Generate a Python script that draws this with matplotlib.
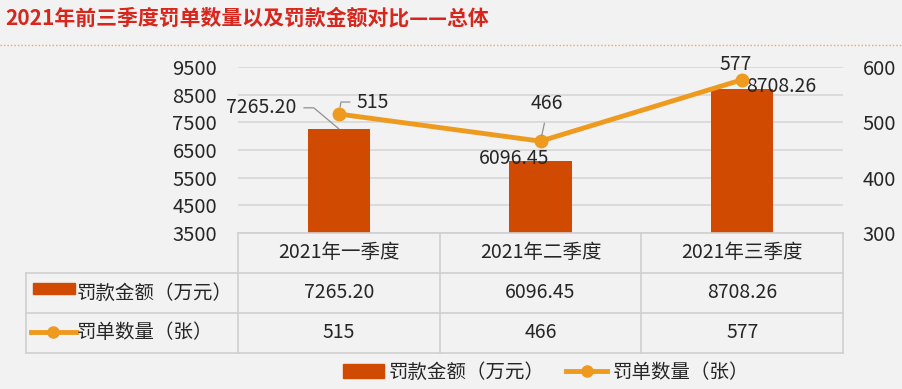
import matplotlib.pyplot as plt
from matplotlib.lines import Line2D
from matplotlib.patches import Patch, Rectangle

plt.rcParams['font.family'] = ['Noto Sans CJK SC', 'DejaVu Sans']

# data
quarters = ['2021年一季度', '2021年二季度', '2021年三季度']
fine_amount = [7265.20, 6096.45, 8708.26]   # 万元
ticket_count = [515, 466, 577]               # 张
amount_label = '罚款金额（万元）'
count_label = '罚单数量（张）'
title = '2021年前三季度罚单数量以及罚款金额对比——总体'

BAR = '#D04A02'
LINE = '#EE9A1F'
BG = '#F2F2F2'
TXT = '#262626'
GRID = '#D9D9D9'

W, H = 903, 389


def fx(px):
    return px / W


def fy(py):
    return 1 - py / H


def fig_line(xs, ys, **kw):
    fig.add_artist(Line2D([fx(v) for v in xs], [fy(v) for v in ys],
                          transform=fig.transFigure, **kw))


fig = plt.figure(figsize=(W / 100, H / 100), dpi=100, facecolor=BG)

# title + dotted rule
fig.text(fx(5), fy(18), title, fontsize=15, fontweight='bold', color='#D8261C', va='center')
fig_line([0, W], [45, 45], color='#EBA76A', lw=1, linestyle=(0, (1, 1.5)))

# plot area
left, right, top, bottom = 238, 843, 67, 233
ax = fig.add_axes([fx(left), fy(bottom), (right - left) / W, (bottom - top) / H])
ax.set_facecolor('none')
x = list(range(len(quarters)))
ax.bar(x, fine_amount, width=0.31, color=BAR, zorder=2)
ax.set_xlim(-0.5, len(quarters) - 0.5)
ax.set_ylim(3500, 9500)
ax.set_yticks(range(3500, 9501, 1000))
ax.set_xticks([])
ax.grid(axis='y', color=GRID, lw=1.3, zorder=0)
for s in ax.spines.values():
    s.set_visible(False)
ax.tick_params(axis='y', length=0, pad=15, labelsize=14.5, labelcolor=TXT)

ax2 = ax.twinx()
ax2.plot(x, ticket_count, color=LINE, lw=3.5, marker='o', ms=9, zorder=3)
ax2.set_ylim(300, 600)
ax2.set_yticks([300, 400, 500, 600])
for s in ax2.spines.values():
    s.set_visible(False)
ax2.tick_params(axis='y', length=0, pad=14, labelsize=14.5, labelcolor=TXT)

leader = dict(arrowstyle='-', color='#909090', lw=0.9)

# bar labels
ax.annotate(f'{fine_amount[0]:.2f}', (x[0], fine_amount[0]), xytext=(-42, 21),
            textcoords='offset pixels', ha='right', va='center', fontsize=14, color=TXT,
            arrowprops=dict(leader, relpos=(1, 0.5), shrinkA=3, shrinkB=0,
                            connectionstyle='angle,angleA=0,angleB=140,rad=0'))
ax.annotate(f'{fine_amount[1]:.2f}', (x[1], fine_amount[1]), xytext=(-26, 3),
            textcoords='offset pixels', ha='center', va='center', fontsize=14, color=TXT, zorder=4)
ax.annotate(f'{fine_amount[2]:.2f}', (x[2], fine_amount[2]), xytext=(39, 2),
            textcoords='offset pixels', ha='center', va='center', fontsize=14, color=TXT, zorder=4)

# line labels
ax2.annotate(str(ticket_count[0]), (x[0], ticket_count[0]), xytext=(18, 12),
             textcoords='offset pixels', ha='left', va='center', fontsize=14, color=TXT,
             arrowprops=dict(leader, relpos=(0, 0.5), shrinkA=3, shrinkB=5,
                             connectionstyle='angle,angleA=180,angleB=80,rad=0'))
ax2.annotate(str(ticket_count[1]), (x[1], ticket_count[1]), xytext=(6, 38),
             textcoords='offset pixels', ha='center', va='center', fontsize=14, color=TXT,
             arrowprops=dict(leader, relpos=(0.5, 0), shrinkA=5, shrinkB=4))
ax2.annotate(str(ticket_count[2]), (x[2], ticket_count[2]), xytext=(-7, 15),
             textcoords='offset pixels', ha='center', va='center', fontsize=14, color=TXT)

# data table under the chart
tcol = '#D0D0D0'
rows = [233, 273, 313, 353]
col_w = (right - left) / len(quarters)
cols = [left + i * col_w for i in range(len(quarters) + 1)]
fig_line([left, right], [rows[0], rows[0]], color=tcol, lw=1.2)
for yy in rows[1:]:
    fig_line([26, right], [yy, yy], color=tcol, lw=1.2)
fig_line([26, 26], [rows[1], rows[3]], color=tcol, lw=1.2)
for xx in cols:
    fig_line([xx, xx], [rows[0], rows[3]], color=tcol, lw=1.2)

tsize = 14
for i, q in enumerate(quarters):
    cx = fx(left + (i + 0.5) * col_w)
    fig.text(cx, fy(253), q, ha='center', va='center', fontsize=tsize, color=TXT)
    fig.text(cx, fy(293), f'{fine_amount[i]:.2f}', ha='center', va='center', fontsize=tsize, color=TXT)
    fig.text(cx, fy(333), str(ticket_count[i]), ha='center', va='center', fontsize=tsize, color=TXT)

fig.add_artist(Rectangle((fx(33), fy(294)), (75 - 33) / W, 11 / H, color=BAR,
                         transform=fig.transFigure))
fig.text(fx(77), fy(293), amount_label, ha='left', va='center', fontsize=tsize, color=TXT)
fig_line([31, 76], [332, 332], color=LINE, lw=3.5)
fig_line([53.5], [332], color=LINE, marker='o', ms=8, lw=0)
fig.text(fx(77), fy(333), count_label, ha='left', va='center', fontsize=tsize, color=TXT)

# legend
handles = [Patch(color=BAR), Line2D([], [], color=LINE, lw=3.5, marker='o', ms=8)]
fig.legend(handles, [amount_label, count_label], loc='center',
           bbox_to_anchor=(fx(546), fy(372)), ncol=2, frameon=False, fontsize=14,
           handlelength=2.1, handletextpad=0.25, columnspacing=1.1, labelcolor=TXT)

fig.savefig('out.png', dpi=100, facecolor=BG)
